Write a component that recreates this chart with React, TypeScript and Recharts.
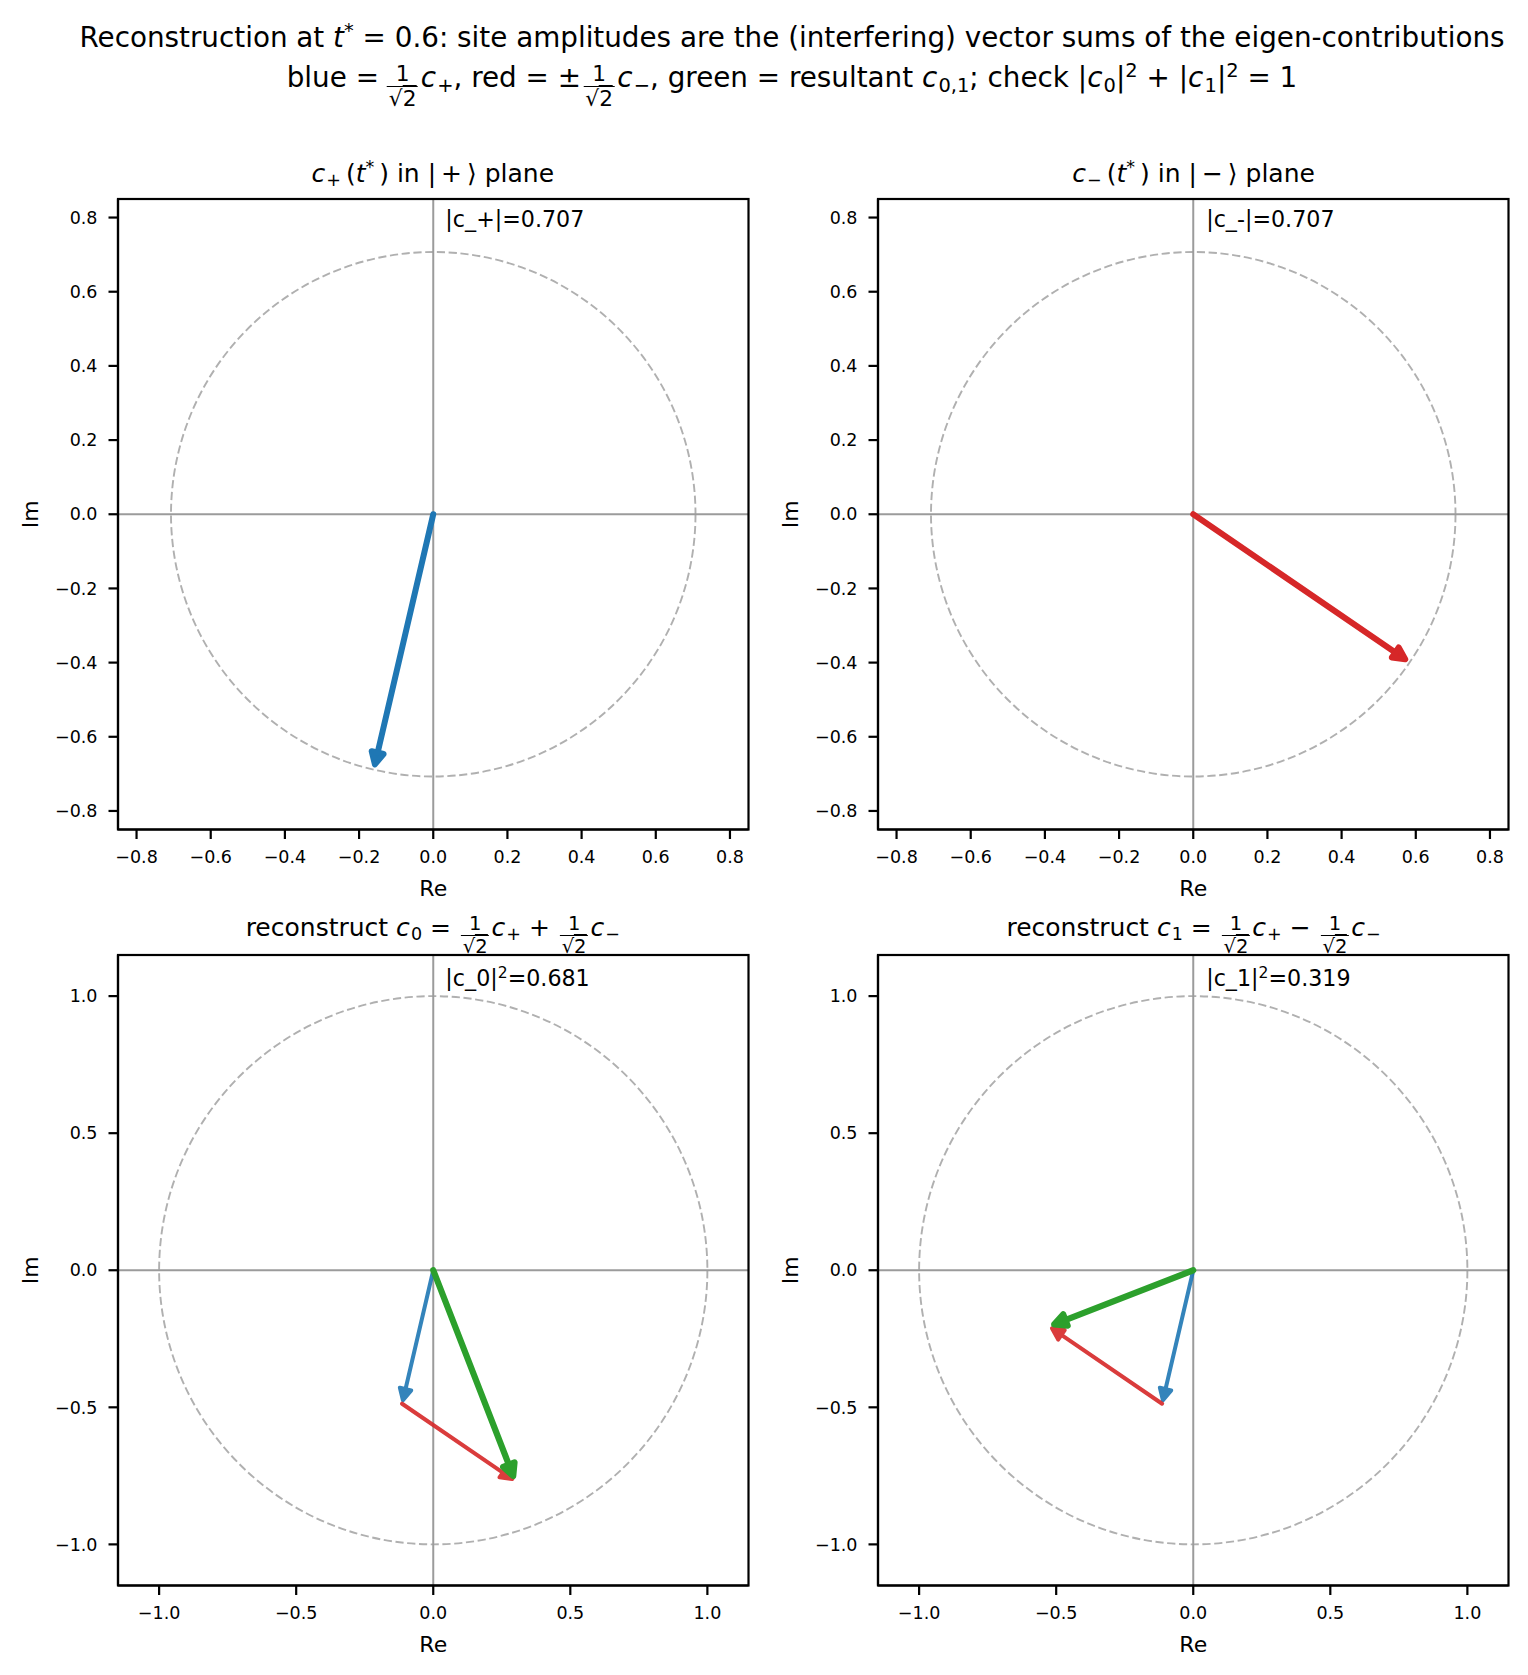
import React from 'react';
import { ComposedChart, XAxis, YAxis, ReferenceLine } from 'recharts';

const FONT = '"DejaVu Sans", "Liberation Sans", sans-serif';

// eigen-amplitudes at t* = 0.6, stored as [Re, Im]
const C_PLUS = [-0.160657, -0.688615];
const C_MINUS = [0.583601, -0.399262];

// axis set-up
const TOP_TICKS = [-0.8, -0.6, -0.4, -0.2, 0, 0.2, 0.4, 0.6, 0.8];
const BOTTOM_TICKS = [-1.0, -0.5, 0, 0.5, 1.0];
const TOP_LIMIT = 0.85;
const BOTTOM_LIMIT = 1.15;
const TOP_RADIUS = 0.70710678;
const BOTTOM_RADIUS = 1.0;

const BLUE = '#1f77b4';
const RED = '#d62728';
const GREEN = '#2ca02c';

// derived contributions
const K = Math.SQRT1_2;
const blueVec = [C_PLUS[0] * K, C_PLUS[1] * K];
const redVec = [C_MINUS[0] * K, C_MINUS[1] * K];
const c0 = [blueVec[0] + redVec[0], blueVec[1] + redVec[1]];
const c1 = [blueVec[0] - redVec[0], blueVec[1] - redVec[1]];
const mag = (v: number[]) => Math.hypot(v[0], v[1]);
const mag2 = (v: number[]) => v[0] * v[0] + v[1] * v[1];

// layout
const PLOT = 630.5;
const AXIS_W = 110;
const M_TOP = 10;
const M_RIGHT = 12;
const AXIS_H = 80;
const COL_X = [117.5, 878.3];
const ROW_Y = [199, 955];

const fmt = (v: number) => (v < 0 ? '\u2212' : '') + Math.abs(v).toFixed(1);

type Arrow = { from: number[]; to: number[]; color: string; width: number; opacity?: number; head?: number };

function ArrowShape(p: any, a: Arrow) {
  const { x1, y1, x2, y2 } = p;
  const dx = x2 - x1;
  const dy = y2 - y1;
  const len = Math.hypot(dx, dy) || 1;
  const ux = dx / len;
  const uy = dy / len;
  const shrink = a.width * 0.9;
  const tipX = x2 - ux * shrink;
  const tipY = y2 - uy * shrink;
  const hs = a.head ?? 1;
  const headLen = 11.5 * hs;
  const headHalf = 5.8 * hs;
  const bx = tipX - ux * headLen;
  const by = tipY - uy * headLen;
  const px = -uy;
  const py = ux;
  const pts = `${tipX},${tipY} ${bx + px * headHalf},${by + py * headHalf} ${bx - px * headHalf},${by - py * headHalf}`;
  return (
    <g opacity={a.opacity ?? 1}>
      <line x1={x1} y1={y1} x2={bx + ux} y2={by + uy} stroke={a.color} strokeWidth={a.width} strokeLinecap="round" />
      <polygon points={pts} fill={a.color} stroke={a.color} strokeWidth={a.width} strokeLinejoin="round" />
    </g>
  );
}

function CircleShape(p: any) {
  const r = Math.abs(p.x2 - p.x1);
  return <circle cx={p.x1} cy={p.y1} r={r} fill="none" stroke="#b0b0b0" strokeWidth={1.9} strokeDasharray="8.2 3.6" />;
}

function FrameShape(p: any) {
  const x = Math.min(p.x1, p.x2);
  const y = Math.min(p.y1, p.y2);
  return <rect x={x} y={y} width={Math.abs(p.x2 - p.x1)} height={Math.abs(p.y2 - p.y1)} fill="none" stroke="#000" strokeWidth={2.2} />;
}

function Panel({ col, row, limit, ticks, radius, arrows }: any) {
  const plotLeft = COL_X[col];
  const plotTop = ROW_Y[row];
  const w = AXIS_W + PLOT + M_RIGHT;
  const h = M_TOP + PLOT + AXIS_H;
  const domain = [-limit, limit];
  const axisStroke = { stroke: '#000', strokeWidth: 2.2 };
  const tickStyle = { fill: '#000', fontSize: 17.5, fontFamily: FONT };
  return (
    <div style={{ position: 'absolute', left: plotLeft - AXIS_W, top: plotTop - M_TOP }}>
      <ComposedChart width={w} height={h} margin={{ top: M_TOP, right: M_RIGHT, bottom: 0, left: 0 }}>
        <XAxis
          type="number"
          dataKey="x"
          domain={domain}
          ticks={ticks}
          interval={0}
          allowDataOverflow
          height={AXIS_H}
          tickFormatter={fmt}
          tick={tickStyle}
          tickSize={9.5}
          tickMargin={12}
          axisLine={axisStroke}
          tickLine={axisStroke}
          label={(lp: any) => {
            const vb = lp.viewBox || {};
            return (
              <text x={vb.x + vb.width / 2} y={vb.y + 66} textAnchor="middle" fontSize={22} fontFamily={FONT} fill="#000">
                Re
              </text>
            );
          }}
        />
        <YAxis
          type="number"
          dataKey="y"
          domain={domain}
          ticks={ticks}
          interval={0}
          allowDataOverflow
          width={AXIS_W}
          tickFormatter={fmt}
          tick={tickStyle}
          tickSize={9.5}
          tickMargin={11}
          axisLine={axisStroke}
          tickLine={axisStroke}
          label={(lp: any) => {
            const vb = lp.viewBox || {};
            const cx = vb.x + vb.width - 87.3;
            const cy = vb.y + vb.height / 2;
            return (
              <text x={cx} y={cy} transform={`rotate(-90 ${cx} ${cy})`} textAnchor="middle" dominantBaseline="central" fontSize={22} fontFamily={FONT} fill="#000">
                Im
              </text>
            );
          }}
        />
        <ReferenceLine segment={[{ x: 0, y: 0 }, { x: radius, y: 0 }]} ifOverflow="visible" shape={CircleShape} />
        <ReferenceLine x={0} stroke="#9b9b9b" strokeWidth={2} />
        <ReferenceLine y={0} stroke="#9b9b9b" strokeWidth={2} />
        {arrows.map((a: Arrow, i: number) => (
          <ReferenceLine
            key={i}
            segment={[{ x: a.from[0], y: a.from[1] }, { x: a.to[0], y: a.to[1] }]}
            ifOverflow="visible"
            shape={(p: any) => ArrowShape(p, a)}
          />
        ))}
        <ReferenceLine segment={[{ x: -limit, y: -limit }, { x: limit, y: limit }]} ifOverflow="visible" shape={FrameShape} />
      </ComposedChart>
    </div>
  );
}

const subStyle: React.CSSProperties = { fontSize: '0.7em', verticalAlign: '-0.25em', marginLeft: '0.06em' };
const supStyle: React.CSSProperties = { fontSize: '0.7em', verticalAlign: '0.5em' };

function Frac() {
  return (
    <span
      style={{
        display: 'inline-flex',
        flexDirection: 'column',
        alignItems: 'center',
        verticalAlign: '0.28em',
        fontSize: '0.78em',
        lineHeight: 1.05,
        margin: '0 0.12em',
      }}
    >
      <span>1</span>
      <span style={{ borderTop: '1px solid currentColor', padding: '0.05em 0.08em 0' }}>
        √<span style={{ borderTop: '1px solid currentColor' }}>2</span>
      </span>
    </span>
  );
}

const C = ({ s }: { s: string }) => (
  <>
    <i>c</i>
    <span style={subStyle}>{s}</span>
  </>
);

function TextLine({ cx, baseline, size, children, align = 'center' }: any) {
  const lh = 2.6;
  const top = baseline - (((lh - 1.164) / 2) + 0.928) * size;
  return (
    <div
      style={{
        position: 'absolute',
        left: cx,
        top,
        transform: align === 'center' ? 'translateX(-50%)' : undefined,
        whiteSpace: 'nowrap',
        fontFamily: FONT,
        fontSize: size,
        lineHeight: lh,
        color: '#000',
      }}
    >
      {children}
    </div>
  );
}

const SP = '\u2009';

export default function App() {
  const centers = COL_X.map((x) => x + PLOT / 2);
  const noteX = COL_X.map((x) => x + 0.52 * PLOT);
  return (
    <div style={{ position: 'absolute', left: 0, top: 0, width: 1528, height: 1675, background: '#fff' }}>
      <TextLine cx={792} baseline={48} size={27.8}>
        Reconstruction at <i>t</i>
        <span style={supStyle}>*</span> = 0.6: site amplitudes are the (interfering) vector sums of the eigen-contributions
      </TextLine>
      <TextLine cx={792} baseline={87.6} size={27.8}>
        blue ={SP}
        <Frac />
        <C s="+" />, red = ±<Frac />
        <C s="−" />, green = resultant <C s="0,1" />; check |<C s="0" />|<span style={supStyle}>2</span> + |<C s="1" />|
        <span style={supStyle}>2</span> = 1
      </TextLine>

      <TextLine cx={centers[0]} baseline={ROW_Y[0] - 17} size={25}>
        <C s="+" />
        {SP}(<i>t</i>
        <span style={supStyle}>*</span>
        {SP}) in |{SP}+{SP}⟩ plane
      </TextLine>
      <TextLine cx={centers[1]} baseline={ROW_Y[0] - 17} size={25}>
        <C s="−" />
        {SP}(<i>t</i>
        <span style={supStyle}>*</span>
        {SP}) in |{SP}−{SP}⟩ plane
      </TextLine>
      <TextLine cx={centers[0]} baseline={ROW_Y[1] - 19} size={25}>
        reconstruct <C s="0" /> = <Frac />
        <C s="+" /> + <Frac />
        <C s="−" />
      </TextLine>
      <TextLine cx={centers[1]} baseline={ROW_Y[1] - 19} size={25}>
        reconstruct <C s="1" /> = <Frac />
        <C s="+" /> − <Frac />
        <C s="−" />
      </TextLine>

      <Panel col={0} row={0} limit={TOP_LIMIT} ticks={TOP_TICKS} radius={TOP_RADIUS} arrows={[{ from: [0, 0], to: C_PLUS, color: BLUE, width: 6, head: 1.05 }]} />
      <Panel col={1} row={0} limit={TOP_LIMIT} ticks={TOP_TICKS} radius={TOP_RADIUS} arrows={[{ from: [0, 0], to: C_MINUS, color: RED, width: 6, head: 1.05 }]} />
      <Panel
        col={0}
        row={1}
        limit={BOTTOM_LIMIT}
        ticks={BOTTOM_TICKS}
        radius={BOTTOM_RADIUS}
        arrows={[
          { from: [0, 0], to: blueVec, color: BLUE, width: 4, opacity: 0.9 },
          { from: blueVec, to: c0, color: RED, width: 4, opacity: 0.9 },
          { from: [0, 0], to: c0, color: GREEN, width: 6.2, head: 1.05 },
        ]}
      />
      <Panel
        col={1}
        row={1}
        limit={BOTTOM_LIMIT}
        ticks={BOTTOM_TICKS}
        radius={BOTTOM_RADIUS}
        arrows={[
          { from: [0, 0], to: blueVec, color: BLUE, width: 4, opacity: 0.9 },
          { from: blueVec, to: c1, color: RED, width: 4, opacity: 0.9 },
          { from: [0, 0], to: c1, color: GREEN, width: 6.2, head: 1.05 },
        ]}
      />

      <TextLine cx={noteX[0]} baseline={ROW_Y[0] + 29} size={22.2} align="left">
        |c_+|={mag(C_PLUS).toFixed(3)}
      </TextLine>
      <TextLine cx={noteX[1]} baseline={ROW_Y[0] + 29} size={22.2} align="left">
        |c_-|={mag(C_MINUS).toFixed(3)}
      </TextLine>
      <TextLine cx={noteX[0]} baseline={ROW_Y[1] + 32} size={22.2} align="left">
        |c_0|<span style={supStyle}>2</span>={mag2(c0).toFixed(3)}
      </TextLine>
      <TextLine cx={noteX[1]} baseline={ROW_Y[1] + 32} size={22.2} align="left">
        |c_1|<span style={supStyle}>2</span>={mag2(c1).toFixed(3)}
      </TextLine>
    </div>
  );
}
